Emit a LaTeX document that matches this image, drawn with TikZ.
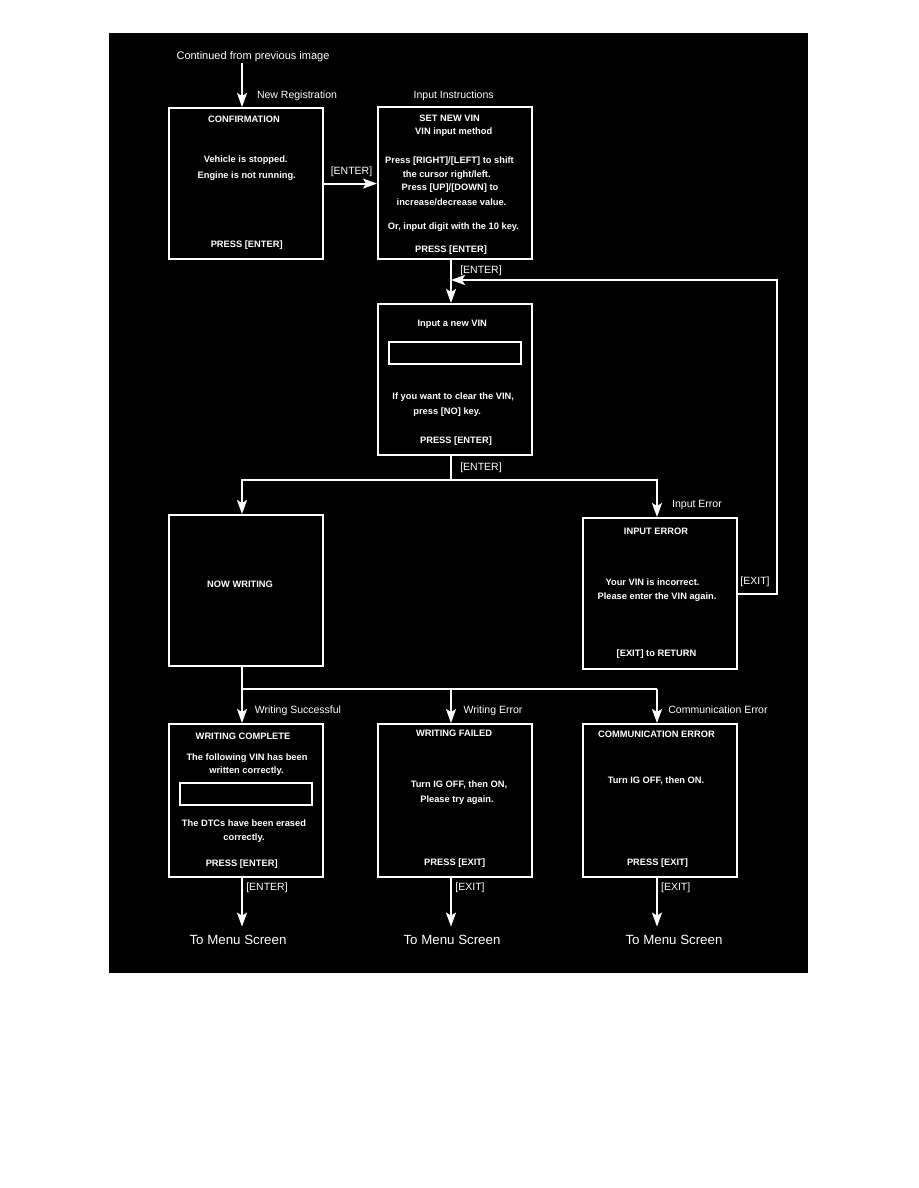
\documentclass[tikz,border=0pt]{standalone}
\usepackage{fontspec}
\setmainfont{Liberation Sans}
\usetikzlibrary{arrows.meta}
\tikzset{
  scr/.style={draw=white, line width=2.2pt, fill=black, inner sep=0pt, anchor=north west},
  field/.style={draw=white, line width=2pt, fill=black, inner sep=0pt, anchor=north west},
  wline/.style={draw=white, line width=2pt},
  arr/.style={wline, -{Stealth[length=14pt,width=10pt,inset=3pt]}},
  bt/.style={text=white, inner sep=0pt, anchor=base, yshift=-3.3pt, font=\fontsize{9.3}{11}\selectfont\bfseries},
  lbl/.style={text=white, inner sep=0pt, anchor=base, yshift=-3.8pt, font=\fontsize{10.5}{12}\selectfont},
  menu/.style={text=white, inner sep=0pt, anchor=base, yshift=-4.8pt, font=\fontsize{13.3}{15}\selectfont}
}
\begin{document}
\begin{tikzpicture}[x=1pt,y=-1pt]
\useasboundingbox (0,0) rectangle (918,1188);
\fill[white] (0,0) rectangle (918,1188);
\fill[black] (109,33) rectangle (808,973);

% column coordinates
\coordinate (colL) at (242,0);
\coordinate (colM) at (451,0);
\coordinate (colR) at (657,0);
\coordinate (j1) at (451,480);
\coordinate (j2) at (451,689);
\coordinate (loopc) at (777,280);

% screens
\node[scr, minimum width=154pt, minimum height=151pt] (conf) at (168,107) {};
\node[scr, minimum width=154pt, minimum height=152pt] (setvin) at (377,106) {};
\node[scr, minimum width=154pt, minimum height=151pt] (inputvin) at (377,303) {};
\node[scr, minimum width=154pt, minimum height=151pt] (nowwr) at (168,514) {};
\node[scr, minimum width=154pt, minimum height=151pt] (inerr) at (582,517) {};
\node[scr, minimum width=154pt, minimum height=153pt] (wrcomp) at (168,723) {};
\node[scr, minimum width=154pt, minimum height=153pt] (wrfail) at (377,723) {};
\node[scr, minimum width=154pt, minimum height=153pt] (comerr) at (582,723) {};
\node[field, minimum width=132pt, minimum height=22pt] (vinfield1) at (388,341) {};
\node[field, minimum width=132pt, minimum height=22pt] (vinfield2) at (179,782) {};

% outside labels
\node[lbl, font=\fontsize{11}{13}\selectfont] (cont) at (253,55.7) {Continued from previous image};
\node[lbl] (newreg) at (297,94.7) {New Registration};
\node[lbl] (instr) at (453.7,94.7) {Input Instructions};
\node[lbl] (enter1) at (351.5,170.3) {[ENTER]};
\node[lbl] (enter2) at (481,270) {[ENTER]};
\node[lbl] (enter3) at (481,467) {[ENTER]};
\node[lbl] (inerrlbl) at (697,504) {Input Error};
\node[lbl] (exit1) at (755,581) {[EXIT]};
\node[lbl] (wslbl) at (298,710) {Writing Successful};
\node[lbl] (welbl) at (493,710) {Writing Error};
\node[lbl] (celbl) at (718,710) {Communication Error};
\node[lbl] (enter4) at (267,887) {[ENTER]};
\node[lbl] (exit2) at (470,887) {[EXIT]};
\node[lbl] (exit3) at (675.7,887) {[EXIT]};
\node[menu] (menu1) at (238,939.3) {To Menu Screen};
\node[menu] (menu2) at (452,939.3) {To Menu Screen};
\node[menu] (menu3) at (674,939.3) {To Menu Screen};

% CONFIRMATION
\node[bt] (c1) at (244,119) {CONFIRMATION};
\node[bt] (c2) at (245.7,159) {Vehicle is stopped.};
\node[bt] (c3) at (246.7,175) {Engine is not running.};
\node[bt] (c4) at (246.7,244) {PRESS [ENTER]};

% SET NEW VIN
\node[bt] (s1) at (449.7,118) {SET NEW VIN};
\node[bt] (s2) at (453.7,131) {VIN input method};
\node[bt] (s3) at (449.5,160) {Press [RIGHT]/[LEFT] to shift};
\node[bt] (s4) at (446.7,174) {the cursor right/left.};
\node[bt] (s5) at (450,187.3) {Press [UP]/[DOWN] to};
\node[bt] (s6) at (451.5,201.7) {increase/decrease value.};
\node[bt] (s7) at (453.5,225.7) {Or, input digit with the 10 key.};
\node[bt] (s8) at (451,249) {PRESS [ENTER]};

% Input a new VIN
\node[bt] (i1) at (452.2,323.3) {Input a new VIN};
\node[bt] (i2) at (453.2,396) {If you want to clear the VIN,};
\node[bt] (i3) at (447.2,410.7) {press [NO] key.};
\node[bt] (i4) at (456,440.3) {PRESS [ENTER]};

% NOW WRITING
\node[bt] (n1) at (240,584) {NOW WRITING};

% INPUT ERROR
\node[bt] (e1) at (656,531) {INPUT ERROR};
\node[bt] (e2) at (652.5,581.7) {Your VIN is incorrect.};
\node[bt] (e3) at (657,596) {Please enter the VIN again.};
\node[bt] (e4) at (656.5,653) {[EXIT] to RETURN};

% WRITING COMPLETE
\node[bt] (w1) at (243,735.7) {WRITING COMPLETE};
\node[bt] (w2) at (247,756.7) {The following VIN has been};
\node[bt] (w3) at (246.5,770.3) {written correctly.};
\node[bt] (w4) at (244,822.7) {The DTCs have been erased};
\node[bt] (w5) at (244,837) {correctly.};
\node[bt] (w6) at (241.7,862.7) {PRESS [ENTER]};

% WRITING FAILED
\node[bt] (f1) at (454,732.7) {WRITING FAILED};
\node[bt] (f2) at (459,784.3) {Turn IG OFF, then ON,};
\node[bt] (f3) at (457,798.7) {Please try again.};
\node[bt] (f4) at (454.7,861.7) {PRESS [EXIT]};

% COMMUNICATION ERROR
\node[bt] (m1) at (656.5,734) {COMMUNICATION ERROR};
\node[bt] (m2) at (656,780.3) {Turn IG OFF, then ON.};
\node[bt] (m3) at (657.5,862.3) {PRESS [EXIT]};

% connectors
\draw[arr] (colL |- cont.south) ++(0,1) -- (colL |- conf.north);
\draw[arr] (conf.east) -- (conf.east -| setvin.west);
\draw[arr] (colM |- setvin.south) -- (colM |- inputvin.north);
\draw[wline] (colM |- inputvin.south) -- (j1);
\draw[arr] (j1) -| (colL |- nowwr.north);
\draw[arr] (j1) -| (colR |- inerr.north);
\draw[arr] (inerr.east) -| (loopc) -- (colM |- loopc);
\draw[wline] (colL |- nowwr.south) -- (colL |- j2) -- (colR |- j2);
\draw[arr] (colL |- j2) -- (colL |- wrcomp.north);
\draw[arr] (j2) -- (colM |- wrfail.north);
\draw[arr] (colR |- j2) -- (colR |- comerr.north);
\draw[arr, shorten >=8pt] (colL |- wrcomp.south) -- (colL |- menu1.north);
\draw[arr, shorten >=8pt] (colM |- wrfail.south) -- (colM |- menu2.north);
\draw[arr, shorten >=8pt] (colR |- comerr.south) -- (colR |- menu3.north);
\end{tikzpicture}
\end{document}
